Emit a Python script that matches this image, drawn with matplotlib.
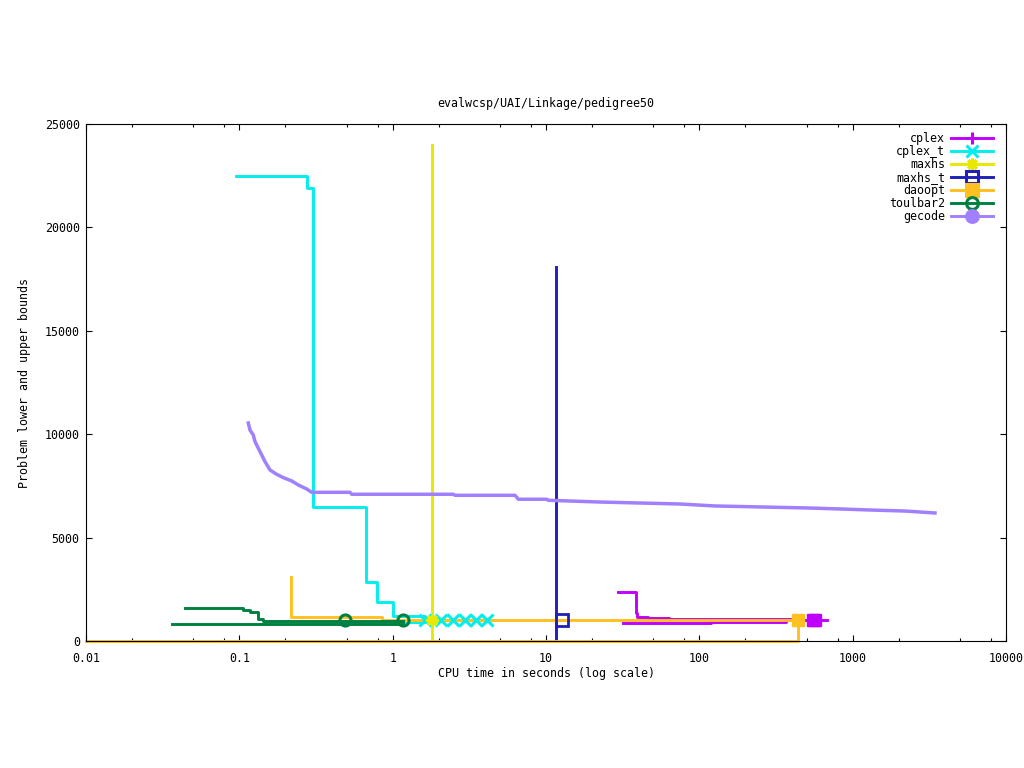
import numpy as np
import matplotlib
matplotlib.use("Agg")
import matplotlib.pyplot as plt
from matplotlib.lines import Line2D
from matplotlib.ticker import FixedLocator, LogLocator, NullFormatter, NullLocator

# --- valeurs (temps CPU en s, bornes) ---
cplex_up_x = [29.6, 38.6, 39.4, 46.0, 63.4, 437.0, 678.0]
cplex_up_y = [2350, 1340, 1175, 1127, 1085, 1010, 1010]
cplex_lo_x = [31.9, 120.0, 367.0, 560.0]
cplex_lo_y = [885, 900, 1000, 1000]
cplex_end_x = [551, 572]
cplex_end_y = [1010, 1010]

cplex_t_up_x = [0.095, 0.276, 0.302, 0.667, 0.794, 1.0, 1.62, 4.5]
cplex_t_up_y = [22500, 21900, 6500, 2870, 1900, 1224, 1010, 1010]
cplex_t_lo_x = [0.272, 1.62]
cplex_t_lo_y = [940, 1000]
cplex_t_end_x = [1.63, 2.07, 2.48, 2.97, 3.50, 4.12]
cplex_t_end_y = [1010, 1010, 1010, 1010, 1010, 1010]

maxhs_x = [1.806, 1.806]
maxhs_y = [24000, 0]
maxhs_end_x = [1.806]
maxhs_end_y = [1010]

maxhs_t_up_x = [11.6, 11.6, 12.8]
maxhs_t_up_y = [18100, 1010, 1010]
maxhs_t_lo_x = [11.6, 11.6]
maxhs_t_lo_y = [0, 1010]
maxhs_t_end_x = [12.8]
maxhs_t_end_y = [1010]

daoopt_up_x = [0.217, 0.217, 0.848, 437.0]
daoopt_up_y = [3100, 1180, 1005, 1005]
daoopt_lo_x = [0.01, 437.0, 437.0]
daoopt_lo_y = [0, 0, 1005]
daoopt_end_x = [437.0]
daoopt_end_y = [1010]

toulbar2_up_x = [0.0442, 0.106, 0.117, 0.133, 0.143, 1.17]
toulbar2_up_y = [1580, 1500, 1417, 1064, 990, 990]
toulbar2_lo_x = [0.0362, 1.17, 1.17]
toulbar2_lo_y = [800, 800, 990]
toulbar2_end_x = [0.489, 1.17]
toulbar2_end_y = [1000, 1000]

gecode_x = [0.1144, 0.1174, 0.1233, 0.1266, 0.133, 0.1399, 0.1471, 0.1585,
            0.1752, 0.1936, 0.2196, 0.2424, 0.2751, 0.2965, 0.527, 0.541,
            2.486, 2.55, 6.28, 6.60, 10.1, 10.35, 22.5, 74.8, 126, 527,
            826, 1297, 2193, 3443]
gecode_y = [10540, 10200, 9960, 9640, 9320, 8995, 8670, 8270,
            8060, 7900, 7740, 7545, 7350, 7190, 7190, 7095,
            7095, 7045, 7045, 6855, 6855, 6805, 6720, 6625, 6530, 6430,
            6385, 6335, 6285, 6190]

names = ["cplex", "cplex_t", "maxhs", "maxhs_t", "daoopt", "toulbar2", "gecode"]
colors = ["#c000ff", "#00eeee", "#e8e800", "#2020b8", "#ffc020", "#008040", "#a080ff"]
x_ticks = [0.01, 0.1, 1, 10, 100, 1000, 10000]
x_tick_labels = ["0.01", "0.1", "1", "10", "100", "1000", "10000"]
y_ticks = [0, 5000, 10000, 15000, 20000, 25000]

plt.rcParams["font.family"] = ["DejaVu Sans Mono"]
plt.rcParams["font.size"] = 8.4

lw = 2.1
ms = 9

fig = plt.figure(figsize=(10.24, 7.68), dpi=100)
ax = fig.add_axes([86 / 1024, 1 - 641 / 768, 920 / 1024, 517 / 768])

c = dict(zip(names, colors))
# lignes d'abord, symboles ensuite (comme gnuplot ici)
ax.plot(cplex_up_x, cplex_up_y, drawstyle="steps-post", color=c["cplex"], lw=lw)
ax.plot(cplex_lo_x, cplex_lo_y, drawstyle="steps-post", color=c["cplex"], lw=lw)
ax.plot(cplex_t_up_x, cplex_t_up_y, drawstyle="steps-post", color=c["cplex_t"], lw=lw)
ax.plot(cplex_t_lo_x, cplex_t_lo_y, drawstyle="steps-post", color=c["cplex_t"], lw=lw)
ax.plot(maxhs_x, maxhs_y, color=c["maxhs"], lw=lw)
ax.plot(maxhs_t_up_x, maxhs_t_up_y, color=c["maxhs_t"], lw=lw)
ax.plot(maxhs_t_lo_x, maxhs_t_lo_y, color=c["maxhs_t"], lw=lw)
ax.plot(daoopt_up_x, daoopt_up_y, drawstyle="steps-post", color=c["daoopt"], lw=lw)
ax.plot(daoopt_lo_x, daoopt_lo_y, color=c["daoopt"], lw=lw, clip_on=False, zorder=2.5)
ax.plot(toulbar2_up_x, toulbar2_up_y, drawstyle="steps-post", color=c["toulbar2"], lw=lw)
ax.plot(toulbar2_lo_x, toulbar2_lo_y, color=c["toulbar2"], lw=lw)
ax.plot(gecode_x, gecode_y, color=c["gecode"], lw=lw + 0.4)

ax.plot(cplex_end_x, cplex_end_y, ls="none", marker="s", ms=ms, color=c["cplex"], zorder=3)
ax.plot(cplex_t_end_x, cplex_t_end_y, ls="none", marker="x", ms=ms - 1, mew=2.2,
        color=c["cplex_t"], zorder=3)
ax.plot(maxhs_end_x, maxhs_end_y, ls="none", marker=(8, 2, 0), ms=ms, mew=2.2,
        color=c["maxhs"], zorder=3)
ax.plot(maxhs_t_end_x, maxhs_t_end_y, ls="none", marker="s", ms=ms - 1, mew=2,
        mfc="none", color=c["maxhs_t"], zorder=3)
ax.plot(daoopt_end_x, daoopt_end_y, ls="none", marker="s", ms=ms, color=c["daoopt"], zorder=3)
ax.plot(toulbar2_end_x, toulbar2_end_y, ls="none", marker="o", ms=ms - 1, mew=2.2,
        mfc="none", color=c["toulbar2"], zorder=3)

markers = ["+", "x", (8, 2, 0), "s", "s", "o", "o"]
fills = [None, None, None, "none", None, "none", None]
handles = []
for n, m, f in zip(names, markers, fills):
    kw = dict(mfc=f) if f else {}
    handles.append(Line2D([], [], color=c[n], lw=lw, marker=m, ms=ms - 0.5, mew=2.2, **kw))
ax.legend(handles, names, loc="upper right", bbox_to_anchor=(1 - 5 / 920, 1),
          markerfirst=False, frameon=False,
          handlelength=3.6, handletextpad=0.5, labelspacing=0.0,
          borderaxespad=0.4, borderpad=0.3, numpoints=1)

ax.set_xscale("log")
ax.set_xlim(0.01, 10000)
ax.set_ylim(0, 25000)
ax.xaxis.set_major_locator(FixedLocator(x_ticks))
ax.set_xticklabels(x_tick_labels)
ax.xaxis.set_minor_locator(LogLocator(base=10, subs=(2, 5, 8)))
ax.xaxis.set_minor_formatter(NullFormatter())
ax.set_yticks(y_ticks)
ax.set_yticklabels([str(v) for v in y_ticks])
ax.yaxis.set_minor_locator(NullLocator())
ax.tick_params(which="both", direction="in", top=True, right=True, width=0.8)
ax.tick_params(which="major", length=4.5)
ax.tick_params(axis="x", which="major", pad=8)
ax.tick_params(axis="y", which="major", pad=4.5)
ax.tick_params(which="minor", length=2.3)
for s in ax.spines.values():
    s.set_linewidth(0.8)

ax.set_xlabel("CPU time in seconds (log scale)")
ax.xaxis.set_label_coords(0.5, -(674 - 641) / 517)
ax.xaxis.label.set_va("center")
ax.set_ylabel("Problem lower and upper bounds")
ax.yaxis.set_label_coords((25 - 86) / 920, 0.5)
ax.yaxis.label.set_va("center")
fig.text(546 / 1024, 1 - 103 / 768, "evalwcsp/UAI/Linkage/pedigree50",
         ha="center", va="center")

fig.savefig("out.png", dpi=100)
